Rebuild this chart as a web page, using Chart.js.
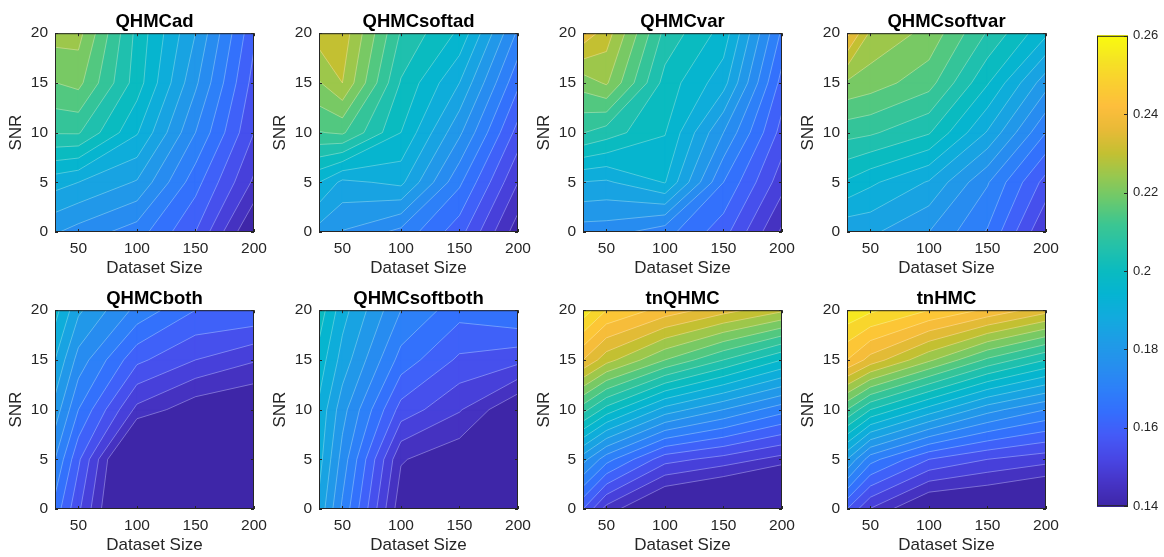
<!DOCTYPE html>
<html>
<head>
<meta charset="utf-8">
<script src="https://cdn.jsdelivr.net/npm/chart.js@4.4.1/dist/chart.umd.min.js"></script>
<style>
  body { margin: 0; background: #fff; width: 1164px; height: 557px; position: relative; overflow: hidden; }
  canvas { position: absolute; }
</style>
</head>
<body>
<script>
// grid axes (columns = dataset size, rows = SNR)
const datasetSizes = [30, 50, 100, 150, 200];
const snrValues = [0, 5, 10, 15, 20];
const xTicks = [50, 100, 150, 200];
const yTicks = [0, 5, 10, 15, 20];
const colorTicks = [0.14, 0.16, 0.18, 0.2, 0.22, 0.24, 0.26];
const contourLevels = [0.145, 0.15, 0.155, 0.16, 0.165, 0.17, 0.175, 0.18, 0.185, 0.19, 0.195, 0.2,
  0.205, 0.21, 0.215, 0.22, 0.225, 0.23, 0.235, 0.24, 0.245, 0.25, 0.255];
const colorMin = 0.14, colorMax = 0.26;

// values, one row per SNR
const qhmcAd = [
  [0.1805, 0.178, 0.1725, 0.160, 0.139],
  [0.192, 0.190, 0.1845, 0.167, 0.149],
  [0.2104, 0.2105, 0.1955, 0.175, 0.155],
  [0.2199, 0.2215, 0.2025, 0.181, 0.158],
  [0.227, 0.2268, 0.2035, 0.185, 0.161]
];
const qhmcSoftAd = [
  [0.183, 0.1797, 0.1735, 0.162, 0.142],
  [0.195, 0.1887, 0.1913, 0.171, 0.150],
  [0.2147, 0.2158, 0.200, 0.181, 0.158],
  [0.2245, 0.230, 0.2045, 0.190, 0.166],
  [0.2325, 0.233, 0.2095, 0.199, 0.174]
];
const qhmcVar = [
  [0.1775, 0.1773, 0.172, 0.162, 0.144],
  [0.1898, 0.1892, 0.1953, 0.170, 0.152],
  [0.2102, 0.2075, 0.2003, 0.180, 0.158],
  [0.2222, 0.2257, 0.203, 0.192, 0.163],
  [0.2385, 0.2325, 0.2085, 0.198, 0.169]
];
const qhmcSoftVar = [
  [0.186, 0.186, 0.180, 0.1695, 0.150],
  [0.1993, 0.196, 0.1895, 0.1755, 0.158],
  [0.2118, 0.2108, 0.2055, 0.1895, 0.170],
  [0.2242, 0.2225, 0.217, 0.2005, 0.182],
  [0.2415, 0.229, 0.2235, 0.2095, 0.196]
];
const qhmcBoth = [
  [0.168, 0.156, 0.128, 0.136, 0.138],
  [0.175, 0.161, 0.129, 0.137, 0.139],
  [0.183, 0.170, 0.1486, 0.1415, 0.139],
  [0.190, 0.178, 0.1612, 0.155, 0.1505],
  [0.197, 0.186, 0.1735, 0.165, 0.1645]
];
const qhmcSoftBoth = [
  [0.1887, 0.174, 0.1416, 0.136, 0.135],
  [0.192, 0.178, 0.1455, 0.141, 0.137],
  [0.194, 0.182, 0.158, 0.1505, 0.1396],
  [0.198, 0.188, 0.168, 0.159, 0.1565],
  [0.203, 0.192, 0.175, 0.167, 0.170]
];
const tnQhmc = [
  [0.160, 0.148, 0.135, 0.130, 0.120],
  [0.182, 0.172, 0.157, 0.153, 0.148],
  [0.212, 0.203, 0.188, 0.180, 0.172],
  [0.240, 0.232, 0.220, 0.210, 0.200],
  [0.258, 0.250, 0.243, 0.237, 0.231]
];
const tnHmc = [
  [0.160, 0.1497, 0.1373, 0.1358, 0.1314],
  [0.185, 0.172, 0.160, 0.155, 0.152],
  [0.215, 0.205, 0.193, 0.182, 0.175],
  [0.245, 0.238, 0.226, 0.214, 0.205],
  [0.259, 0.256, 0.250, 0.244, 0.237]
];
const panelTitles = ['QHMCad', 'QHMCsoftad', 'QHMCvar', 'QHMCsoftvar',
  'QHMCboth', 'QHMCsoftboth', 'tnQHMC', 'tnHMC'];
const panelGrids = [qhmcAd, qhmcSoftAd, qhmcVar, qhmcSoftVar,
  qhmcBoth, qhmcSoftBoth, tnQhmc, tnHmc];

// parula-like colormap
const parulaStops = [
  [0.00, 62, 38, 168], [0.05, 70, 52, 198], [0.10, 72, 70, 228], [0.15, 68, 90, 247],
  [0.20, 52, 110, 253], [0.25, 45, 128, 248], [0.30, 38, 143, 238], [0.35, 30, 156, 230],
  [0.40, 18, 170, 222], [0.45, 5, 180, 210], [0.50, 10, 187, 192], [0.55, 35, 193, 170],
  [0.60, 60, 198, 145], [0.65, 105, 201, 110], [0.70, 150, 200, 80], [0.75, 195, 192, 50],
  [0.80, 232, 186, 55], [0.85, 253, 190, 60], [0.90, 250, 207, 48], [0.95, 245, 228, 35],
  [1.00, 249, 251, 14]
];
function parula(t) {
  t = Math.max(0, Math.min(1, t));
  for (let i = 1; i < parulaStops.length; i++) {
    const a = parulaStops[i - 1], b = parulaStops[i];
    if (t <= b[0]) {
      const f = (t - a[0]) / (b[0] - a[0]);
      const c = [1, 2, 3].map(k => Math.round(a[k] + f * (b[k] - a[k])));
      return `rgb(${c[0]},${c[1]},${c[2]})`;
    }
  }
  return 'rgb(249,251,14)';
}
const levelColor = v => parula((v - colorMin) / (colorMax - colorMin));

const FONT = '"Liberation Sans", Arial, Helvetica, sans-serif';
const AXIS_COLOR = '#262626';
Chart.defaults.font.family = FONT;
Chart.defaults.color = AXIS_COLOR;

// keep the part of a cell where value >= L (edges interpolated linearly)
function clipAbove(poly, L) {
  const out = [];
  for (let i = 0; i < poly.length; i++) {
    const a = poly[i], b = poly[(i + 1) % poly.length];
    const ia = a.v >= L, ib = b.v >= L;
    if (ia) out.push(a);
    if (ia !== ib) {
      const t = (L - a.v) / (b.v - a.v);
      out.push({ x: a.x + t * (b.x - a.x), y: a.y + t * (b.y - a.y), v: L });
    }
  }
  return out;
}

// marching squares segments of level L inside one cell
function cellSegments(c, L) {
  const pts = [];
  for (let e = 0; e < 4; e++) {
    const a = c[e], b = c[(e + 1) % 4];
    if ((a.v >= L) !== (b.v >= L)) {
      const t = (L - a.v) / (b.v - a.v);
      pts.push({ x: a.x + t * (b.x - a.x), y: a.y + t * (b.y - a.y) });
    }
  }
  if (pts.length === 2) return [[pts[0], pts[1]]];
  if (pts.length === 4) {
    const mid = (c[0].v + c[1].v + c[2].v + c[3].v) / 4;
    if ((c[0].v >= L) === (mid >= L)) return [[pts[0], pts[1]], [pts[2], pts[3]]];
    return [[pts[3], pts[0]], [pts[1], pts[2]]];
  }
  return [];
}

function gridCells(grid) {
  const cells = [];
  for (let i = 0; i < snrValues.length - 1; i++) {
    for (let j = 0; j < datasetSizes.length - 1; j++) {
      cells.push([
        { x: datasetSizes[j], y: snrValues[i], v: grid[i][j] },
        { x: datasetSizes[j + 1], y: snrValues[i], v: grid[i][j + 1] },
        { x: datasetSizes[j + 1], y: snrValues[i + 1], v: grid[i + 1][j + 1] },
        { x: datasetSizes[j], y: snrValues[i + 1], v: grid[i + 1][j] }
      ]);
    }
  }
  return cells;
}

const contourPlugin = {
  id: 'contourf',
  beforeDatasetsDraw(chart, args, opts) {
    const { ctx, chartArea: a } = chart;
    const xs = chart.scales.x, ys = chart.scales.y;
    const cells = gridCells(opts.grid);
    const px = p => [xs.getPixelForValue(p.x), ys.getPixelForValue(p.y)];
    ctx.save();
    ctx.beginPath();
    ctx.rect(a.left, a.top, a.right - a.left, a.bottom - a.top);
    ctx.clip();
    ctx.fillStyle = levelColor(colorMin);
    ctx.fillRect(a.left, a.top, a.right - a.left, a.bottom - a.top);
    ctx.lineWidth = 1;
    ctx.lineJoin = 'round';
    for (const L of contourLevels) {
      const col = levelColor(L);
      ctx.fillStyle = col;
      ctx.strokeStyle = col;
      for (const c of cells) {
        const poly = clipAbove(c, L);
        if (poly.length < 3) continue;
        ctx.beginPath();
        poly.forEach((p, k) => {
          const [x, y] = px(p);
          if (k) ctx.lineTo(x, y); else ctx.moveTo(x, y);
        });
        ctx.closePath();
        ctx.fill();
        ctx.stroke();
      }
    }
    // contour lines
    ctx.strokeStyle = 'rgba(255,255,255,0.5)';
    ctx.lineWidth = 0.6;
    ctx.beginPath();
    for (const L of contourLevels) {
      for (const c of cells) {
        for (const [p, q] of cellSegments(c, L)) {
          const [x1, y1] = px(p), [x2, y2] = px(q);
          ctx.moveTo(x1, y1);
          ctx.lineTo(x2, y2);
        }
      }
    }
    ctx.stroke();
    ctx.restore();
  },
  afterDraw(chart) {
    const { ctx, chartArea: a } = chart;
    const xs = chart.scales.x, ys = chart.scales.y;
    const tl = 3;
    ctx.save();
    ctx.strokeStyle = AXIS_COLOR;
    ctx.lineWidth = 1;
    ctx.beginPath();
    xTicks.forEach(t => {
      const x = Math.round(xs.getPixelForValue(t)) + 0.5;
      ctx.moveTo(x, a.bottom); ctx.lineTo(x, a.bottom - tl);
      ctx.moveTo(x, a.top); ctx.lineTo(x, a.top + tl);
    });
    yTicks.forEach(t => {
      const y = Math.round(ys.getPixelForValue(t)) + 0.5;
      ctx.moveTo(a.left, y); ctx.lineTo(a.left + tl, y);
      ctx.moveTo(a.right, y); ctx.lineTo(a.right - tl, y);
    });
    ctx.stroke();
    ctx.strokeRect(a.left + 0.5, a.top + 0.5, a.right - a.left - 1, a.bottom - a.top - 1);
    ctx.restore();
  }
};

const colLefts = [55, 319, 583, 847];
const rowTops = [33, 310];
const AX_W = 199, AX_H = 199;
const Y_AXIS_W = 55, TITLE_H = 33, X_AXIS_H = 47, RIGHT_PAD = 20;

function addCanvas(left, top, w, h) {
  const cv = document.createElement('canvas');
  cv.width = w; cv.height = h;
  cv.style.left = left + 'px'; cv.style.top = top + 'px';
  cv.style.width = w + 'px'; cv.style.height = h + 'px';
  document.body.appendChild(cv);
  return cv;
}

panelTitles.forEach((title, idx) => {
  const grid = panelGrids[idx];
  const col = idx % 4, row = Math.floor(idx / 4);
  const cv = addCanvas(colLefts[col] - Y_AXIS_W, rowTops[row] - TITLE_H,
    Y_AXIS_W + AX_W + RIGHT_PAD, TITLE_H + AX_H + X_AXIS_H);
  const nodes = [];
  snrValues.forEach((s, i) => datasetSizes.forEach((d, j) => nodes.push({ x: d, y: s, v: grid[i][j] })));
  new Chart(cv, {
    type: 'scatter',
    data: { datasets: [{ data: nodes, pointRadius: 0, pointHoverRadius: 0 }] },
    options: {
      responsive: false,
      animation: false,
      devicePixelRatio: 1,
      events: [],
      layout: { padding: { top: 0, left: 0, bottom: 0, right: RIGHT_PAD } },
      plugins: {
        legend: { display: false },
        tooltip: { enabled: false },
        title: {
          display: true, text: title, fullSize: false, color: '#000',
          font: { size: 18.5, weight: 'bold', family: FONT },
          padding: { top: 11, bottom: 0 }
        },
        contourf: { grid }
      },
      scales: {
        x: {
          type: 'linear', min: 30, max: 200,
          afterBuildTicks: s => { s.ticks = xTicks.map(v => ({ value: v })); },
          afterFit: s => { s.height = X_AXIS_H; },
          grid: { display: false, drawTicks: false }, border: { display: false },
          ticks: { color: AXIS_COLOR, font: { size: 15.5 }, padding: 7, maxRotation: 0, autoSkip: false },
          title: { display: true, text: 'Dataset Size', color: AXIS_COLOR, font: { size: 17 }, padding: 0 }
        },
        y: {
          type: 'linear', min: 0, max: 20,
          afterBuildTicks: s => { s.ticks = yTicks.map(v => ({ value: v })); },
          afterFit: s => { s.width = Y_AXIS_W; },
          grid: { display: false, drawTicks: false }, border: { display: false },
          ticks: { color: AXIS_COLOR, font: { size: 15.5 }, padding: 7, autoSkip: false },
          title: { display: true, text: 'SNR', color: AXIS_COLOR, font: { size: 17 }, padding: { top: 6, bottom: 0 } }
        }
      }
    },
    plugins: [contourPlugin]
  });
});

// colorbar
const colorbarPlugin = {
  id: 'colorbarFill',
  beforeDatasetsDraw(chart) {
    const { ctx, chartArea: a } = chart;
    const ys = chart.scales.y;
    for (let py = Math.floor(a.top); py < a.bottom; py++) {
      const v = ys.getValueForPixel(py + 0.5);
      ctx.fillStyle = levelColor(v);
      ctx.fillRect(a.left, py, a.right - a.left, 1);
    }
  },
  afterDraw(chart) {
    const { ctx, chartArea: a } = chart;
    const ys = chart.scales.y;
    ctx.save();
    ctx.strokeStyle = AXIS_COLOR;
    ctx.lineWidth = 1;
    ctx.beginPath();
    colorTicks.forEach(t => {
      const y = Math.round(ys.getPixelForValue(t)) + 0.5;
      ctx.moveTo(a.right, y); ctx.lineTo(a.right - 4, y);
    });
    ctx.stroke();
    ctx.strokeRect(a.left + 0.5, a.top + 0.5, a.right - a.left - 1, a.bottom - a.top - 1);
    ctx.restore();
  }
};

const CB_LEFT = 1097, CB_W = 31, CB_TOP = 33, CB_H = 476, CB_AXIS_W = 36;
const cbCanvas = addCanvas(CB_LEFT, CB_TOP - 10, CB_W + CB_AXIS_W, CB_H + 20);
new Chart(cbCanvas, {
  type: 'scatter',
  data: { datasets: [{ data: colorTicks.map(v => ({ x: 0.5, y: v })), pointRadius: 0, pointHoverRadius: 0 }] },
  options: {
    responsive: false,
    animation: false,
    devicePixelRatio: 1,
    events: [],
    layout: { padding: { top: 10, bottom: 10, left: 0, right: 0 } },
    plugins: { legend: { display: false }, tooltip: { enabled: false } },
    scales: {
      x: { type: 'linear', min: 0, max: 1, display: false },
      y: {
        type: 'linear', position: 'right', min: colorMin, max: colorMax,
        afterBuildTicks: s => { s.ticks = colorTicks.map(v => ({ value: v })); },
        afterFit: s => { s.width = CB_AXIS_W; },
        grid: { display: false, drawTicks: false }, border: { display: false },
        ticks: { color: AXIS_COLOR, font: { size: 13 }, padding: 5, autoSkip: false,
          callback: v => String(+v.toFixed(2)) }
      }
    }
  },
  plugins: [colorbarPlugin]
});
</script>
</body>
</html>
